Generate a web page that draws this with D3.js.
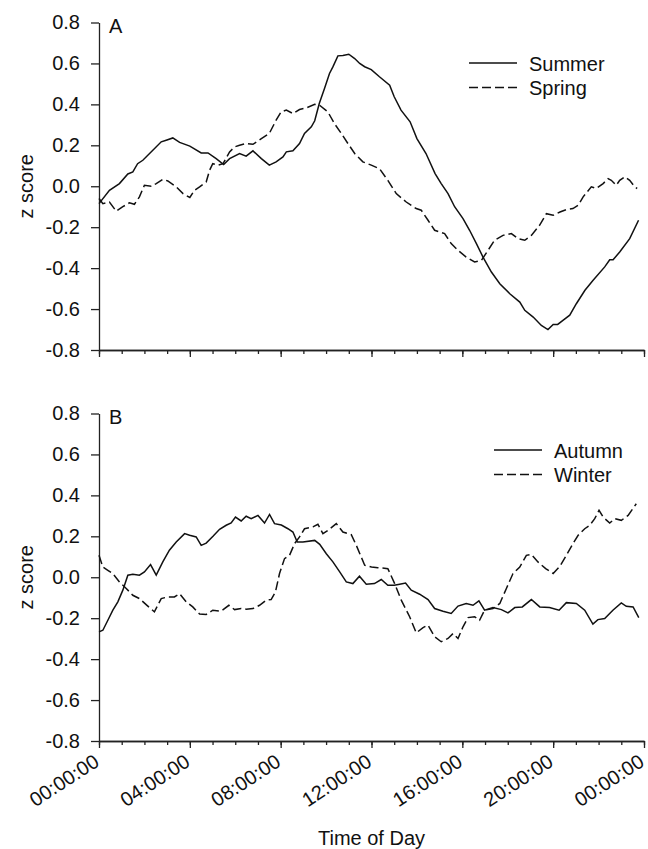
<!DOCTYPE html>
<meta charset="utf-8">
<style>
body { margin: 0; background: #fff; }
svg { display: block; background: #fff; }
text { font-family: "Liberation Sans", Arial, sans-serif; fill: #111; }
.axis path, .axis line { fill: none; stroke: #222; stroke-width: 1.3px; }
.axis text { font-size: 20px; fill: #111; }
.line { fill: none; stroke: #111; stroke-width: 1.5px; }
.line.dashed { stroke-dasharray: 9,4; }
.legend text, .panel-label, .axis-title { font-size: 20px; }
</style>
<body>
<script src="https://d3js.org/d3.v7.min.js"></script>
<script>

// [hour of day, z score]
var summer = [[0,-0.085],[0.46,-0.02],[0.9,0.013],[1.27,0.06],[1.49,0.07],[1.7,0.11],[1.93,0.127],[2.37,0.176],[2.74,0.217],[2.96,0.225],[3.25,0.236],[3.55,0.214],[4.0,0.196],[4.5,0.163],[4.8,0.163],[5.16,0.135],[5.49,0.106],[5.75,0.135],[6.19,0.16],[6.48,0.147],[6.78,0.173],[7.15,0.135],[7.5,0.103],[7.8,0.119],[8.1,0.143],[8.25,0.168],[8.54,0.173],[8.83,0.209],[9.05,0.258],[9.35,0.29],[9.5,0.32],[9.7,0.404],[9.93,0.478],[10.15,0.551],[10.3,0.583],[10.52,0.637],[10.74,0.639],[11.0,0.645],[11.26,0.624],[11.48,0.6],[11.7,0.584],[11.99,0.57],[12.35,0.535],[12.8,0.494],[13.0,0.437],[13.3,0.372],[13.7,0.315],[14.0,0.233],[14.4,0.16],[14.8,0.062],[15.07,0.013],[15.37,-0.036],[15.66,-0.1],[16.03,-0.158],[16.32,-0.215],[16.62,-0.28],[16.91,-0.346],[17.28,-0.419],[17.65,-0.476],[18.09,-0.525],[18.53,-0.566],[18.75,-0.606],[19.12,-0.639],[19.48,-0.68],[19.77,-0.7],[20.0,-0.675],[20.2,-0.675],[20.43,-0.655],[20.73,-0.63],[21.02,-0.574],[21.4,-0.508],[21.75,-0.46],[22.27,-0.394],[22.49,-0.359],[22.64,-0.359],[22.93,-0.321],[23.37,-0.256],[23.76,-0.166]];

var spring = [[0,-0.06],[0.17,-0.085],[0.46,-0.077],[0.76,-0.122],[1.05,-0.1],[1.34,-0.081],[1.56,-0.088],[1.78,-0.052],[2.0,0.005],[2.3,0],[2.52,0.013],[2.81,0.034],[3.03,0.026],[3.4,-0.003],[3.7,-0.036],[4.0,-0.055],[4.2,-0.02],[4.43,-0.003],[4.72,0.021],[4.87,0.078],[5.01,0.11],[5.24,0.103],[5.46,0.11],[5.75,0.168],[5.97,0.192],[6.19,0.2],[6.48,0.209],[6.78,0.205],[7.15,0.233],[7.5,0.258],[7.8,0.323],[8.02,0.363],[8.25,0.372],[8.54,0.355],[8.83,0.375],[9.13,0.383],[9.5,0.4],[9.71,0.396],[10.08,0.363],[10.37,0.306],[10.67,0.258],[10.96,0.209],[11.26,0.16],[11.62,0.119],[11.99,0.103],[12.35,0.086],[12.72,0.029],[13.09,-0.036],[13.53,-0.077],[13.97,-0.109],[14.19,-0.117],[14.49,-0.166],[14.78,-0.215],[15.22,-0.231],[15.51,-0.28],[15.81,-0.313],[16.17,-0.346],[16.54,-0.37],[16.84,-0.362],[17.13,-0.313],[17.42,-0.264],[17.79,-0.24],[18.16,-0.231],[18.45,-0.256],[18.75,-0.264],[19.04,-0.24],[19.4,-0.191],[19.7,-0.134],[20.0,-0.142],[20.3,-0.126],[20.58,-0.114],[20.87,-0.109],[21.1,-0.093],[21.32,-0.052],[21.68,-0.003],[21.9,-0.011],[22.2,0.013],[22.42,0.037],[22.56,0.029],[22.78,0.005],[22.93,0.029],[23.15,0.046],[23.37,0.029],[23.59,-0.003],[23.7,-0.011]];

var autumn = [[0,-0.267],[0.17,-0.259],[0.39,-0.21],[0.61,-0.161],[0.83,-0.12],[1.05,-0.063],[1.27,0.01],[1.49,0.015],[1.78,0.01],[2.0,0.026],[2.27,0.062],[2.52,0.01],[2.81,0.075],[3.1,0.132],[3.4,0.172],[3.77,0.213],[3.99,0.205],[4.28,0.197],[4.5,0.156],[4.72,0.167],[5.02,0.2],[5.31,0.234],[5.6,0.254],[5.82,0.265],[6.01,0.294],[6.26,0.275],[6.48,0.298],[6.7,0.286],[7.0,0.302],[7.29,0.265],[7.51,0.307],[7.73,0.262],[8.03,0.255],[8.32,0.237],[8.54,0.221],[8.73,0.172],[8.98,0.172],[9.5,0.18],[9.72,0.161],[10.01,0.115],[10.3,0.075],[10.6,0.026],[10.89,-0.023],[11.18,-0.031],[11.47,0.005],[11.77,-0.034],[12.13,-0.031],[12.43,-0.011],[12.72,-0.039],[13.0,-0.039],[13.24,-0.034],[13.5,-0.028],[13.75,-0.063],[14.12,-0.083],[14.49,-0.109],[14.78,-0.153],[15.15,-0.166],[15.51,-0.177],[15.81,-0.141],[16.17,-0.128],[16.47,-0.137],[16.73,-0.115],[16.98,-0.161],[17.35,-0.148],[17.72,-0.158],[18.01,-0.174],[18.31,-0.148],[18.64,-0.145],[19.04,-0.109],[19.41,-0.145],[19.84,-0.148],[20.26,-0.161],[20.58,-0.124],[21.02,-0.128],[21.39,-0.161],[21.75,-0.229],[21.97,-0.207],[22.27,-0.202],[22.63,-0.161],[23.0,-0.125],[23.22,-0.142],[23.52,-0.145],[23.77,-0.197]];

var winter = [[0,0.107],[0.17,0.05],[0.39,0.034],[0.61,0.018],[0.9,-0.023],[1.2,-0.055],[1.49,-0.088],[1.78,-0.104],[2.15,-0.141],[2.44,-0.169],[2.74,-0.104],[3.03,-0.096],[3.32,-0.096],[3.55,-0.08],[3.84,-0.12],[4.13,-0.145],[4.43,-0.18],[4.72,-0.182],[5.01,-0.161],[5.38,-0.166],[5.72,-0.137],[5.97,-0.158],[6.26,-0.153],[6.48,-0.156],[6.78,-0.153],[7.07,-0.137],[7.36,-0.112],[7.58,-0.109],[7.77,-0.072],[7.95,0.018],[8.17,0.091],[8.39,0.107],[8.61,0.164],[8.83,0.197],[9.05,0.237],[9.42,0.246],[9.64,0.259],[9.86,0.213],[10.08,0.229],[10.45,0.262],[10.74,0.221],[11.11,0.208],[11.33,0.156],[11.7,0.059],[12.0,0.05],[12.28,0.047],[12.72,0.042],[13.02,-0.031],[13.31,-0.112],[13.68,-0.193],[13.97,-0.272],[14.27,-0.246],[14.49,-0.234],[14.78,-0.291],[15.07,-0.315],[15.37,-0.299],[15.59,-0.275],[15.81,-0.299],[16.03,-0.242],[16.25,-0.197],[16.54,-0.193],[16.76,-0.21],[16.98,-0.161],[17.35,-0.153],[17.65,-0.128],[17.94,-0.055],[18.23,0.018],[18.53,0.05],[18.82,0.107],[19.04,0.112],[19.33,0.075],[19.67,0.042],[20.0,0.018],[20.3,0.054],[20.58,0.107],[20.87,0.164],[21.1,0.205],[21.39,0.237],[21.61,0.254],[21.83,0.286],[22.02,0.327],[22.2,0.294],[22.49,0.265],[22.71,0.286],[23.0,0.278],[23.3,0.302],[23.66,0.359]];

var yTicks = [-0.8, -0.6, -0.4, -0.2, 0, 0.2, 0.4, 0.6, 0.8];
var hourTicks = [0,1,2,3,4,5,6,7,8,9,10,11,12,13,14,15,16,17,18,19,20,21,22,23,24];
var majorHours = [0, 4, 8, 12, 16, 20, 24];
var timeLabels = ["00:00:00", "04:00:00", "08:00:00", "12:00:00", "16:00:00", "20:00:00", "00:00:00"];

var panels = [
	{label: "A", top: 22.5, legendX: 370, legendY: 40.5, showLabels: false,
	 series: [{name: "Summer", data: summer, dashed: false}, {name: "Spring", data: spring, dashed: true}]},
	{label: "B", top: 413.5, legendX: 395, legendY: 36.5, showLabels: true,
	 series: [{name: "Autumn", data: autumn, dashed: false}, {name: "Winter", data: winter, dashed: true}]}
];

var svgW = 648, svgH = 849;
var left = 99;
var width = 545;
var height = 327.5;

var x = d3.scaleLinear().domain([0, 24]).range([0, width]);
var y = d3.scaleLinear().domain([-0.8, 0.8]).range([height, 0]);

var line = d3.line()
	.x(function(d) { return x(d[0]); })
	.y(function(d) { return y(d[1]); });

var svg = d3.select("body").append("svg")
	.attr("width", svgW)
	.attr("height", svgH);

panels.forEach(function(p) {
	var g = svg.append("g")
		.attr("transform", "translate(" + left + "," + p.top + ")");

	// minor hour ticks
	g.append("g")
		.attr("class", "x axis")
		.attr("transform", "translate(0," + height + ")")
		.call(d3.axisBottom(x).tickValues(hourTicks).tickSize(4).tickSizeOuter(0).tickFormat(""));

	var xMajor = g.append("g")
		.attr("class", "x axis")
		.attr("transform", "translate(0," + height + ")")
		.call(d3.axisBottom(x).tickValues(majorHours).tickSize(7).tickSizeOuter(0)
			.tickFormat(function(d, i) { return p.showLabels ? timeLabels[i] : ""; }));

	xMajor.selectAll("text")
		.attr("x", 0)
		.attr("y", 0)
		.attr("dy", 0)
		.style("text-anchor", "end")
		.attr("transform", "translate(1,24) rotate(-33)");

	g.append("g")
		.attr("class", "y axis")
		.call(d3.axisLeft(y).tickValues(yTicks).tickSize(8).tickSizeOuter(0).tickPadding(11)
			.tickFormat(function(d) { return d.toFixed(1); }));

	g.append("text")
		.attr("class", "axis-title")
		.attr("text-anchor", "middle")
		.attr("transform", "translate(" + (33 - left) + "," + y(0) + ") rotate(-90)")
		.text("z score");

	g.append("text")
		.attr("class", "panel-label")
		.attr("x", 10)
		.attr("y", 10.5)
		.text(p.label);

	g.selectAll(".line")
		.data(p.series)
		.enter().append("path")
		.attr("class", function(d) { return d.dashed ? "line dashed" : "line"; })
		.attr("d", function(d) { return line(d.data); });

	var legend = g.append("g")
		.attr("class", "legend")
		.attr("transform", "translate(" + p.legendX + "," + p.legendY + ")");

	var item = legend.selectAll("g")
		.data(p.series)
		.enter().append("g")
		.attr("transform", function(d, i) { return "translate(0," + (i * 24.5) + ")"; });

	item.append("line")
		.attr("class", function(d) { return d.dashed ? "line dashed" : "line"; })
		.attr("x1", 0)
		.attr("x2", 48)
		.attr("y1", 0)
		.attr("y2", 0);

	item.append("text")
		.attr("x", 60)
		.attr("y", 7.5)
		.text(function(d) { return d.name; });
});

svg.append("text")
	.attr("class", "axis-title")
	.attr("text-anchor", "middle")
	.attr("x", left + width / 2)
	.attr("y", 845)
	.text("Time of Day");

</script>
